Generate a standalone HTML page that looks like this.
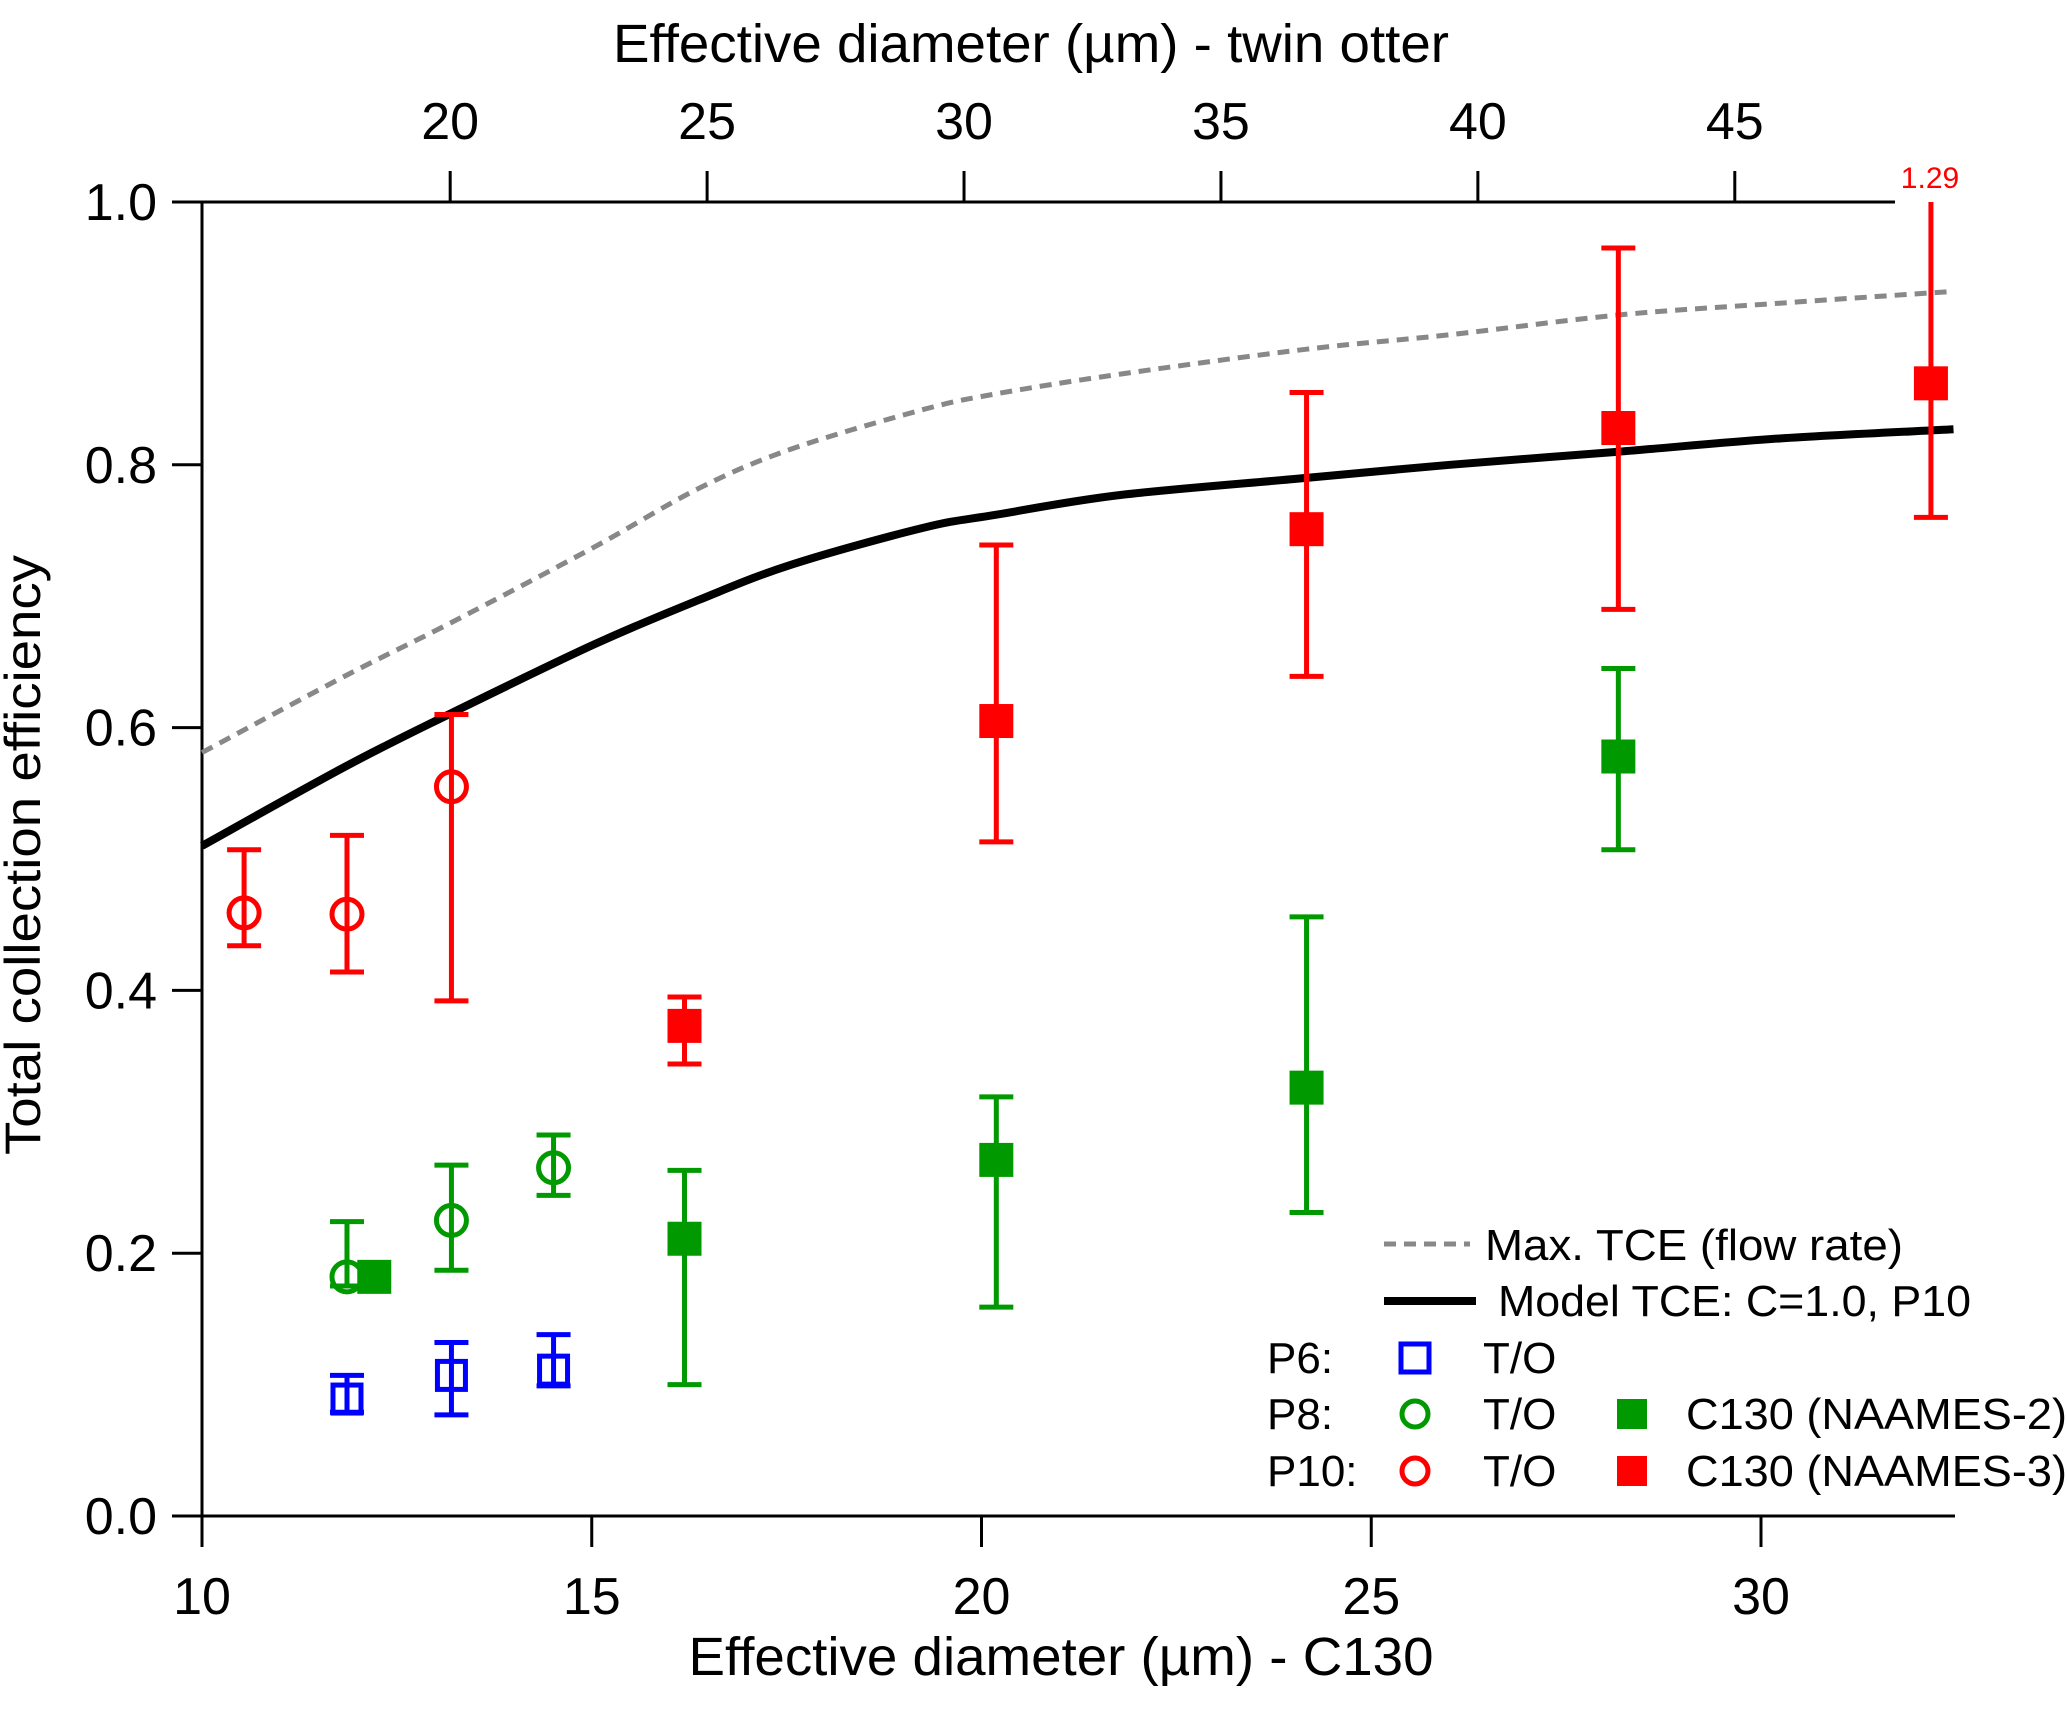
<!DOCTYPE html>
<html><head><meta charset="utf-8"><style>
html,body{margin:0;padding:0;background:#fff;}
svg{display:block;font-family:"Liberation Sans",sans-serif;}
</style></head><body>
<svg id="chart" width="2067" height="1709" viewBox="0 0 2067 1709" xmlns="http://www.w3.org/2000/svg">
<g id="axes"></g>
<g id="curves"></g>
<g id="points"></g>
<g id="legend"></g>
</svg>
<script>
// ---- data ----
const bottomTicks = [10, 15, 20, 25, 30];
const topTicks = [20, 25, 30, 35, 40, 45];
const yTicks = [0, 0.2, 0.4, 0.6, 0.8, 1.0];
const yTickLabels = ["0.0", "0.2", "0.4", "0.6", "0.8", "1.0"];
const topRatio = 1.517; // twin otter diameter / C130 diameter

const curveX = [10, 11.86, 13.2, 15.02, 16.37, 17.56, 19.25, 20.19, 21.78, 24.17, 26.01, 28.17, 30.24, 32.47];
const modelY = [0.510, 0.571, 0.611, 0.663, 0.697, 0.724, 0.752, 0.762, 0.777, 0.790, 0.800, 0.810, 0.820, 0.827];
const maxY = [0.581, 0.640, 0.680, 0.737, 0.782, 0.812, 0.842, 0.854, 0.869, 0.888, 0.899, 0.914, 0.923, 0.932];

const p6ToX = [11.86, 13.2, 14.51];
const p6ToY = [0.089, 0.107, 0.111];
const p6ToHi = [0.107, 0.132, 0.138];
const p6ToLo = [0.079, 0.077, 0.099];

const p8ToX = [11.86, 13.2, 14.51];
const p8ToY = [0.182, 0.225, 0.265];
const p8ToHi = [0.224, 0.267, 0.290];
const p8ToLo = [0.175, 0.187, 0.244];

const p10ToX = [10.54, 11.86, 13.2];
const p10ToY = [0.459, 0.458, 0.555];
const p10ToHi = [0.507, 0.518, 0.610];
const p10ToLo = [0.434, 0.414, 0.392];

const p8CX = [12.21, 16.19, 20.19, 24.17, 28.17];
const p8CY = [0.182, 0.211, 0.271, 0.326, 0.578];
const p8CHi = [null, 0.263, 0.319, 0.456, 0.645];
const p8CLo = [null, 0.100, 0.159, 0.231, 0.507];

const p10CX = [16.19, 20.19, 24.17, 28.17, 32.18];
const p10CY = [0.373, 0.605, 0.751, 0.828, 0.862];
const p10CHi = [0.395, 0.739, 0.855, 0.965, 1.29];
const p10CLo = [0.344, 0.513, 0.639, 0.690, 0.760];

// ---- scales ----
const X0 = 202, X1 = 1955, Y0 = 1516, Y1 = 202;
const xs = v => X0 + (v - 10) * (1761 - 202) / 20;
const ys = v => Y0 - v * (Y0 - Y1);
const xt = v => xs(v / topRatio);
const NS = "http://www.w3.org/2000/svg";
function mk(tag, attrs, parent) {
  const e = document.createElementNS(NS, tag);
  for (const k in attrs) e.setAttribute(k, attrs[k]);
  parent.appendChild(e);
  return e;
}
const axes = document.getElementById('axes');
const curves = document.getElementById('curves');
const points = document.getElementById('points');
const legend = document.getElementById('legend');

let a = mk('line', {x1: X0, y1: Y0, x2: X1, y2: Y0, stroke: '#000', 'stroke-width': 3}, axes);
 
a = mk('line', {x1: 172, y1: Y1, x2: 1895, y2: Y1, stroke: '#000', 'stroke-width': 3}, axes);
 
a = mk('line', {x1: X0, y1: Y1, x2: X0, y2: 1547, stroke: '#000', 'stroke-width': 3}, axes);
 

bottomTicks.forEach(t => {
  const l = mk('line', {x1: xs(t), y1: Y0, x2: xs(t), y2: 1547, stroke: '#000', 'stroke-width': 3}, axes);
   
  const tx = mk('text', {x: xs(t), y: 1614, 'font-size': 52, 'text-anchor': 'middle'}, axes);
  tx.textContent = t;
   
});
topTicks.forEach(t => {
  const l = mk('line', {x1: xt(t), y1: Y1, x2: xt(t), y2: 171, stroke: '#000', 'stroke-width': 3}, axes);
   
  const tx = mk('text', {x: xt(t), y: 139, 'font-size': 52, 'text-anchor': 'middle'}, axes);
  tx.textContent = t;
   
});
yTicks.forEach((t, i) => {
  const l = mk('line', {x1: 172, y1: ys(t), x2: X0, y2: ys(t), stroke: '#000', 'stroke-width': 3}, axes);
   
  const tx = mk('text', {x: 157, y: ys(t) + 18, 'font-size': 52, 'text-anchor': 'end'}, axes);
  tx.textContent = yTickLabels[i];
   
});
let t = mk('text', {x: 1061, y: 1675, 'font-size': 54, 'text-anchor': 'middle', textLength: 745, lengthAdjust: 'spacingAndGlyphs'}, axes);
t.textContent = 'Effective diameter (µm) - C130';
 
t = mk('text', {x: 1031, y: 62, 'font-size': 54, 'text-anchor': 'middle', textLength: 836, lengthAdjust: 'spacingAndGlyphs'}, axes);
t.textContent = 'Effective diameter (µm) - twin otter';
 
t = mk('text', {x: 0, y: 0, 'font-size': 50, 'text-anchor': 'middle', textLength: 600, lengthAdjust: 'spacingAndGlyphs', transform: 'translate(40,855) rotate(-90)'}, axes);
t.textContent = 'Total collection efficiency';
 

// smooth curves (Catmull-Rom)
function pathD(xa, ya) {
  const P = xa.map((x, i) => [xs(x), ys(ya[i])]);
  let d = 'M' + P[0][0].toFixed(1) + ',' + P[0][1].toFixed(1);
  for (let i = 0; i < P.length - 1; i++) {
    const p0 = P[Math.max(i - 1, 0)], p1 = P[i], p2 = P[i + 1], p3 = P[Math.min(i + 2, P.length - 1)];
    const c1 = [p1[0] + (p2[0] - p0[0]) / 6, p1[1] + (p2[1] - p0[1]) / 6];
    const c2 = [p2[0] - (p3[0] - p1[0]) / 6, p2[1] - (p3[1] - p1[1]) / 6];
    d += ' C' + c1.map(v => v.toFixed(1)).join(',') + ' ' + c2.map(v => v.toFixed(1)).join(',') + ' ' + p2.map(v => v.toFixed(1)).join(',');
  }
  return d;
}
let c = mk('path', {d: pathD(curveX, maxY), fill: 'none', stroke: '#888', 'stroke-width': 5, 'stroke-dasharray': '12 8'}, curves);
 
c = mk('path', {d: pathD(curveX, modelY), fill: 'none', stroke: '#000', 'stroke-width': 8, 'stroke-linejoin': 'round'}, curves);
 

function errBar(x, hi, lo, col) {
  if (hi == null) return;
  const top = Math.max(ys(Math.min(hi, 1.0)), Y1);
  const g = mk('g', {stroke: col, 'stroke-width': 5}, points);
   
  mk('line', {x1: xs(x), y1: top, x2: xs(x), y2: ys(lo)}, g);
  if (hi <= 1.0) mk('line', {x1: xs(x) - 17, y1: top, x2: xs(x) + 17, y2: top}, g);
  mk('line', {x1: xs(x) - 17, y1: ys(lo), x2: xs(x) + 17, y2: ys(lo)}, g);
}
function series(X, Y, H, L, col, shape, name) {
  X.forEach((x, i) => {
    errBar(x, H[i], L[i], col);
    let m;
    if (shape === 'osq') m = mk('rect', {x: xs(x) - 14, y: ys(Y[i]) - 14, width: 28, height: 28, fill: 'none', stroke: col, 'stroke-width': 5}, points);
    else if (shape === 'oc') m = mk('circle', {cx: xs(x), cy: ys(Y[i]), r: 15, fill: 'none', stroke: col, 'stroke-width': 5}, points);
    else m = mk('rect', {x: xs(x) - 17, y: ys(Y[i]) - 17, width: 34, height: 34, fill: col}, points);
    
    
  });
}
series(p6ToX, p6ToY, p6ToHi, p6ToLo, '#0000ff', 'osq', 'p6-to-point');
series(p8ToX, p8ToY, p8ToHi, p8ToLo, '#009900', 'oc', 'p8-to-point');
series(p10ToX, p10ToY, p10ToHi, p10ToLo, '#ff0000', 'oc', 'p10-to-point');
series(p8CX, p8CY, p8CHi, p8CLo, '#009900', 'fsq', 'p8-c130-point');
series(p10CX, p10CY, p10CHi, p10CLo, '#ff0000', 'fsq', 'p10-c130-point');
t = mk('text', {x: 1930, y: 188, 'font-size': 30, fill: '#ff0000', 'text-anchor': 'middle'}, points);
t.textContent = '1.29';
 

function lt(x, y, s, name, len) {
  const a = {x: x, y: y, 'font-size': 44};
  if (len) { a.textLength = len; a.lengthAdjust = 'spacingAndGlyphs'; }
  const e = mk('text', a, legend);
  e.textContent = s;
  
  
}
let l = mk('line', {x1: 1384, y1: 1244, x2: 1470, y2: 1244, stroke: '#888', 'stroke-width': 5, 'stroke-dasharray': '12 8'}, legend);
 
lt(1485, 1260, 'Max. TCE (flow rate)', 'legend-max-label', 418);
l = mk('line', {x1: 1384, y1: 1301, x2: 1476, y2: 1301, stroke: '#000', 'stroke-width': 8}, legend);
 
lt(1498, 1316, 'Model TCE: C=1.0, P10', 'legend-model-label', 473);
lt(1267, 1373, 'P6:', 'legend-p6-label');
lt(1267, 1429, 'P8:', 'legend-p8-label');
lt(1267, 1486, 'P10:', 'legend-p10-label');
let s = mk('rect', {x: 1401, y: 1344, width: 28, height: 28, fill: 'none', stroke: '#0000ff', 'stroke-width': 5}, legend);
 
s = mk('circle', {cx: 1415, cy: 1414, r: 13, fill: 'none', stroke: '#009900', 'stroke-width': 5}, legend);
 
s = mk('circle', {cx: 1415, cy: 1471, r: 13, fill: 'none', stroke: '#ff0000', 'stroke-width': 5}, legend);
 
s = mk('rect', {x: 1617, y: 1399, width: 30, height: 30, fill: '#009900'}, legend);
 
s = mk('rect', {x: 1617, y: 1456, width: 30, height: 30, fill: '#ff0000'}, legend);
 
lt(1483, 1373, 'T/O', 'legend-to-label');
lt(1483, 1429, 'T/O', 'legend-to-label');
lt(1483, 1486, 'T/O', 'legend-to-label');
lt(1686, 1429, 'C130 (NAAMES-2)', 'legend-naames2-label', 381);
lt(1686, 1486, 'C130 (NAAMES-3)', 'legend-naames3-label', 381);
</script>
</body></html>
